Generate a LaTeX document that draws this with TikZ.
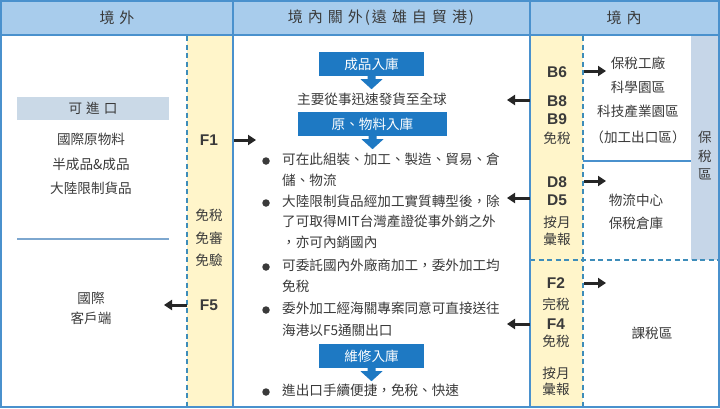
\documentclass[tikz,border=0pt]{standalone}
\usepackage{fontspec}
\setmainfont{Noto Sans CJK TC}
\newfontfamily\lat{Liberation Sans}
\usetikzlibrary{arrows.meta}
\definecolor{hdr}{HTML}{A8CCEC}
\definecolor{bline}{HTML}{4A91CD}
\definecolor{yel}{HTML}{FFF5CA}
\definecolor{gry}{HTML}{C6D6E8}
\definecolor{kbox}{HTML}{CAD9E7}
\definecolor{bbox}{HTML}{1E79C3}
\definecolor{txt}{HTML}{3A3A3A}
\definecolor{dsh}{HTML}{3E8DBA}
\definecolor{lline}{HTML}{7DA7CF}
\newcommand\mygap{\hspace{5pt}}
\newcommand\blockdown[1]{\fill[bbox] ([xshift=-4pt]#1.south) -- ([xshift=-4pt,yshift=-3pt]#1.south) -- ([xshift=-11pt,yshift=-3pt]#1.south) -- ([yshift=-13pt]#1.south) -- ([xshift=11pt,yshift=-3pt]#1.south) -- ([xshift=4pt,yshift=-3pt]#1.south) -- ([xshift=4pt]#1.south) -- cycle;}
\tikzset{
 lbl/.style={font=\fontsize{13.6}{15}\selectfont, text=txt, inner sep=0pt},
 bl/.style={font=\lat\bfseries\fontsize{15.5}{17}\selectfont, text=txt, inner sep=0pt},
 hd/.style={font=\fontsize{15}{17}\selectfont, text=txt, inner sep=0pt},
 bbx/.style={fill=bbox, text=white, font=\fontsize{13.6}{15}\selectfont, inner sep=0pt, minimum height=24pt},
 fat/.style={line width=3pt, -{Triangle[length=8pt,width=10pt]}, black!85},
 dashln/.style={draw=dsh, line width=1.3pt, dash pattern=on 5pt off 3.5pt},
 sol/.style={draw=bline, line width=1.5pt},
 bul/.style={circle, fill=txt, inner sep=0pt, minimum size=7.5pt},
 ln/.style={lbl, anchor=west, text height=0.88em, text depth=0.12em}
}
\begin{document}
\begin{tikzpicture}[x=1pt,y=-1pt]
\useasboundingbox (0,0) rectangle (720,408);
% fills
\fill[white] (0,0) rectangle (720,408);
\fill[hdr] (1,1) rectangle (719,35);
\fill[yel] (187,35) rectangle (233,407);
\fill[yel] (530,35) rectangle (583,407);
\fill[gry] (691,35) rectangle (719,260);
% lines
\draw[dashln] (187,36) -- (187,407);
\draw[dashln] (583,36) -- (583,407);
\draw[dashln] (530,260) -- (719,260);
\draw[sol] (583,161) -- (691,161);
\draw[sol] (1,35) -- (719,35);
\draw[sol] (233,1) -- (233,407);
\draw[sol] (530,1) -- (530,407);
\draw[draw=bline, line width=2pt] (1,1) rectangle (719,407);
% headers
\node[hd] (h1) at (117,18) {境\mygap 外};
\node[hd] (h2) at (381,18) {境\mygap 內\mygap 關\mygap 外\hspace{2pt}(\hspace{2pt}遠\mygap 雄\mygap 自\mygap 貿\mygap 港\hspace{2pt})};
\node[hd] (h3) at (624,18) {境\mygap 內};
% left column
\node[lbl, fill=kbox, minimum width=152pt, minimum height=23pt] (kjk) at (93,108.5) {可\hspace{4pt}進\hspace{4pt}口};
\node[lbl] (l1) at (91,139) {國際原物料};
\node[lbl] (l2) at (91,164) {半成品\&成品};
\node[lbl] (l3) at (91,188) {大陸限制貨品};
\draw[draw=lline, line width=1.5pt] (17,239) -- (169,239);
\node[lbl] (l4) at (91,298) {國際};
\node[lbl] (l5) at (91,318) {客戶端};
% F column
\node[bl] (F1) at (209,140) {F1};
\node[lbl] (f2) at (209,215) {免稅};
\node[lbl] (f3) at (209,238) {免審};
\node[lbl] (f4) at (209,260) {免驗};
\node[bl] (F5) at (209,305) {F5};
\coordinate (f1a) at (234,140);
\coordinate (f1b) at (256,140);
\draw[fat] (f1a) -- (f1b);
\coordinate (f5a) at (187,305);
\coordinate (f5b) at (164,305);
\draw[fat] (f5a) -- (f5b);
% center
\node[bbx, minimum width=105pt] (b1) at (371.5,64) {成品入庫};
\blockdown{b1}
\node[lbl] (c1) at (372,99) {主要從事迅速發貨至全球};
\node[bbx, minimum width=149pt] (b2) at (372.5,124) {原、物料入庫};
\blockdown{b2}
\node[bul] (d1) at (266,161) {};
\node[ln] (t1) at (282,161) {可在此組裝、加工、製造、貿易、倉};
\node[ln] (t2) at (282,182) {儲、物流};
\node[bul] (d2) at (266,203) {};
\node[ln] (t3) at (282,203) {大陸限制貨品經加工實質轉型後，除};
\node[ln] (t4) at (282,223) {了可取得MIT台灣產證從事外銷之外};
\node[ln] (t5) at (282,244) {，亦可內銷國內};
\node[bul] (d3) at (266,267) {};
\node[ln] (t6) at (282,267) {可委託國內外廠商加工，委外加工均};
\node[ln] (t7) at (282,288) {免稅};
\node[bul] (d4) at (266,310) {};
\node[ln] (t8) at (282,310) {委外加工經海關專案同意可直接送往};
\node[ln] (t9) at (282,332) {海港以F5通關出口};
\node[bbx, minimum width=105pt] (b3) at (371.5,356) {維修入庫};
\blockdown{b3}
\node[bul] (d5) at (266,392) {};
\node[ln] (t10) at (282,392) {進出口手續便捷，免稅、快速};
% B column
\node[bl] (B6) at (557,72) {B6};
\node[bl] (B8) at (557,101) {B8};
\node[bl] (B9) at (557,119) {B9};
\node[lbl] (g1) at (557,138) {免稅};
\node[bl] (D8) at (557,182) {D8};
\node[bl] (D5) at (557,200) {D5};
\node[lbl] (g2) at (557,222) {按月};
\node[lbl] (g3) at (557,239) {彙報};
\node[bl] (F2) at (556,283) {F2};
\node[lbl] (g4) at (556,304) {完稅};
\node[bl] (F4) at (556,324) {F4};
\node[lbl] (g5) at (556,341) {免稅};
\node[lbl] (g6) at (556,373) {按月};
\node[lbl] (g7) at (556,389) {彙報};
% arrows B column
\coordinate (ra1) at (584,71);  \coordinate (rb1) at (606,71);
\coordinate (ra2) at (584,181); \coordinate (rb2) at (606,181);
\coordinate (ra3) at (584,283); \coordinate (rb3) at (606,283);
\draw[fat] (ra1) -- (rb1);
\draw[fat] (ra2) -- (rb2);
\draw[fat] (ra3) -- (rb3);
\coordinate (la1) at (530,100); \coordinate (lb1) at (507,100);
\coordinate (la2) at (530,198); \coordinate (lb2) at (507,198);
\coordinate (la3) at (530,324); \coordinate (lb3) at (507,324);
\draw[fat] (la1) -- (lb1);
\draw[fat] (la2) -- (lb2);
\draw[fat] (la3) -- (lb3);
% right column
\node[lbl] (r1) at (638,63) {保稅工廠};
\node[lbl] (r2) at (638,87) {科學園區};
\node[lbl] (r3) at (638,111) {科技產業園區};
\node[lbl] (r4) at (638,137) {（加工出口區）};
\node[lbl] (r5) at (636,200) {物流中心};
\node[lbl] (r6) at (636,223) {保稅倉庫};
\node[lbl] (r7) at (652,333) {課稅區};
\node[lbl] (v1) at (705,137) {保};
\node[lbl] (v2) at (705,156) {稅};
\node[lbl] (v3) at (705,174) {區};
\end{tikzpicture}
\end{document}
